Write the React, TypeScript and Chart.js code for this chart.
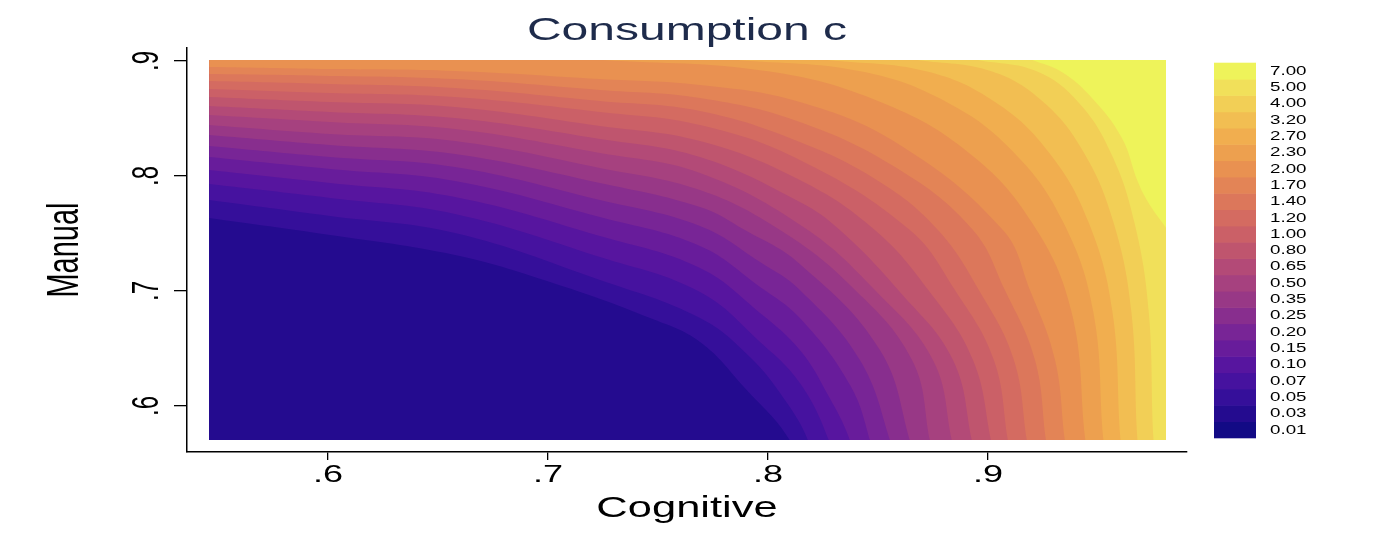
import React, { useEffect, useRef } from 'react';
import { Chart, registerables } from 'chart.js';

Chart.register(...registerables);

// Legend cut labels (bottom to top)
const levelLabels = ['0.01', '0.03', '0.05', '0.07', '0.10', '0.15', '0.20', '0.25', '0.35', '0.50', '0.65', '0.80', '1.00', '1.20', '1.40', '1.70', '2.00', '2.30', '2.70', '3.20', '4.00', '5.00', '7.00'];
// Colour of each legend band (same order)
const bandColors = ['#120A85', '#240B8F', '#350F9A', '#46129F', '#57159F', '#681C9B', '#782596', '#882E8E', '#983886', '#A6417F', '#B34A77', '#BF556E', '#CB6067', '#D46B61', '#DC775B', '#E38456', '#E99151', '#EDA04F', '#F1AE4F', '#F2BE52', '#F2CF56', '#F1E05A', '#EEF35A'];

const xTickValues = [0.6, 0.7, 0.8, 0.9];
const xTickLabels = ['.6', '.7', '.8', '.9'];
const yTickValues = [0.6, 0.7, 0.8, 0.9];
const yTickLabels = ['.6', '.7', '.8', '.9'];

// extent of the evaluated grid
const cognitiveRange = [0.546, 0.981];
const manualRange = [0.570, 0.901];

// Contour boundaries: [Cognitive, Manual]
const iso005 = [[0.546, 0.7635], [0.6009, 0.7487], [0.6577, 0.7313], [0.7009, 0.7078], [0.7464, 0.6765], [0.7691, 0.6557], [0.7895, 0.6157], [0.8100, 0.570]];
const iso007 = [[0.546, 0.7791], [0.6009, 0.7652], [0.6577, 0.7504], [0.7236, 0.7096], [0.7691, 0.6765], [0.7918, 0.6426], [0.8077, 0.6052], [0.8182, 0.570]];
const iso010 = [[0.546, 0.7930], [0.6009, 0.7809], [0.6577, 0.7670], [0.7236, 0.7296], [0.7691, 0.6991], [0.7964, 0.6557], [0.8145, 0.6200], [0.8277, 0.570]];
const iso015 = [[0.546, 0.8052], [0.6009, 0.7939], [0.6577, 0.7817], [0.7236, 0.7478], [0.7691, 0.7200], [0.7964, 0.6809], [0.8145, 0.6487], [0.8273, 0.6096], [0.8373, 0.570]];
const iso020 = [[0.546, 0.8165], [0.6009, 0.8061], [0.6577, 0.7957], [0.7236, 0.7643], [0.7691, 0.7391], [0.7964, 0.7035], [0.8145, 0.6765], [0.8373, 0.6183], [0.8464, 0.570]];
const iso025 = [[0.546, 0.8261], [0.6009, 0.8165], [0.6577, 0.8078], [0.7236, 0.7791], [0.7691, 0.7565], [0.7964, 0.7252], [0.8145, 0.7009], [0.8418, 0.6400], [0.8555, 0.570]];
const iso035 = [[0.546, 0.8357], [0.6009, 0.8270], [0.6577, 0.8191], [0.7236, 0.7939], [0.7691, 0.7730], [0.7895, 0.7530], [0.8145, 0.7235], [0.8509, 0.6487], [0.8645, 0.570]];
const iso050 = [[0.546, 0.8443], [0.6009, 0.8365], [0.6577, 0.8304], [0.7236, 0.8070], [0.7691, 0.7878], [0.8055, 0.7530], [0.8373, 0.7052], [0.8655, 0.6400], [0.8736, 0.570]];
const iso065 = [[0.546, 0.8530], [0.6009, 0.8470], [0.6577, 0.8409], [0.7236, 0.8200], [0.7691, 0.8026], [0.8168, 0.7548], [0.8486, 0.7009], [0.8750, 0.6400], [0.8836, 0.570]];
const iso080 = [[0.546, 0.8609], [0.6009, 0.8557], [0.6577, 0.8504], [0.7236, 0.8322], [0.7691, 0.8165], [0.8145, 0.7774], [0.8327, 0.7530], [0.8600, 0.6991], [0.8841, 0.6400], [0.8927, 0.570]];
const iso100 = [[0.546, 0.8687], [0.6009, 0.8643], [0.6577, 0.8600], [0.7236, 0.8435], [0.7691, 0.8304], [0.8145, 0.7965], [0.8486, 0.7530], [0.8736, 0.6991], [0.8932, 0.6400], [0.9014, 0.570]];
const iso120 = [[0.546, 0.8757], [0.6009, 0.8722], [0.6577, 0.8687], [0.7236, 0.8557], [0.7691, 0.8443], [0.8145, 0.8139], [0.8645, 0.7530], [0.8850, 0.7009], [0.9027, 0.6400], [0.9091, 0.570]];
const iso140 = [[0.546, 0.8826], [0.6009, 0.8800], [0.6577, 0.8765], [0.7236, 0.8652], [0.7691, 0.8565], [0.8145, 0.8296], [0.8509, 0.7948], [0.8773, 0.7530], [0.8964, 0.6991], [0.9118, 0.6400], [0.9177, 0.570]];
const iso170 = [[0.546, 0.8887], [0.6009, 0.8870], [0.6577, 0.8843], [0.7236, 0.8748], [0.7691, 0.8678], [0.8145, 0.8470], [0.8600, 0.8052], [0.8932, 0.7530], [0.9077, 0.7009], [0.9214, 0.6400], [0.9264, 0.570]];
const iso200 = [[0.546, 0.8948], [0.6009, 0.8930], [0.6577, 0.8913], [0.7236, 0.8843], [0.7691, 0.8791], [0.8145, 0.8643], [0.8600, 0.8270], [0.9068, 0.7530], [0.9191, 0.7009], [0.9305, 0.6400], [0.9350, 0.570]];
const iso230 = [[0.7240, 0.901], [0.8000, 0.8910], [0.8514, 0.8641], [0.8914, 0.8201], [0.9200, 0.7596], [0.9380, 0.6819], [0.9443, 0.570]];
const iso270 = [[0.7854, 0.901], [0.8421, 0.8910], [0.8814, 0.8641], [0.9120, 0.8201], [0.9343, 0.7596], [0.9479, 0.6819], [0.9525, 0.570]];
const iso320 = [[0.8265, 0.901], [0.8719, 0.8910], [0.9034, 0.8641], [0.9279, 0.8201], [0.9458, 0.7596], [0.9566, 0.6819], [0.9603, 0.570]];
const iso400 = [[0.8676, 0.901], [0.9016, 0.8910], [0.9253, 0.8641], [0.9437, 0.8201], [0.9571, 0.7596], [0.9652, 0.6819], [0.9680, 0.570]];
const iso500 = [[0.8950, 0.901], [0.9222, 0.8910], [0.9411, 0.8641], [0.9559, 0.8201], [0.9666, 0.7596], [0.9731, 0.6819], [0.9753, 0.570]];
const iso700 = [[0.9200, 0.901], [0.9336, 0.8904], [0.9473, 0.8678], [0.9609, 0.8330], [0.9682, 0.7948], [0.9736, 0.7748], [0.981, 0.7548]];

// boundary k separates band k+1 (below-left) from band k+2 (above-right)
const isoLines = [iso005, iso007, iso010, iso015, iso020, iso025, iso035, iso050, iso065, iso080, iso100, iso120, iso140, iso170, iso200, iso230, iso270, iso320, iso400, iso500, iso700];

const SX = 1.5; // horizontal stretch of the original text
const FONT = '"Liberation Sans", Arial, Helvetica, sans-serif';

function drawText(ctx: CanvasRenderingContext2D, text: string, x: number, y: number, size: number, color: string, align: CanvasTextAlign, baseline: CanvasTextBaseline, rotate = false) {
  ctx.save();
  ctx.translate(x, y);
  ctx.scale(SX, 1);
  if (rotate) ctx.rotate(-Math.PI / 2);
  ctx.font = `${size}px ${FONT}`;
  ctx.fillStyle = color;
  ctx.textAlign = align;
  ctx.textBaseline = baseline;
  ctx.fillText(text, 0, 0);
  ctx.restore();
}

// clip every band to the evaluated grid rectangle (whole pixels, so that stacked bands do not bleed)
const gridClipPlugin = {
  id: 'gridClip',
  beforeDatasetsDraw(chart: any) {
    const xs = chart.scales.x;
    const ys = chart.scales.y;
    const l = Math.round(xs.getPixelForValue(cognitiveRange[0]));
    const r = Math.round(xs.getPixelForValue(cognitiveRange[1]));
    const t = Math.round(ys.getPixelForValue(manualRange[1]));
    const b = Math.floor(ys.getPixelForValue(manualRange[0]));
    const ctx = chart.ctx;
    ctx.save();
    ctx.beginPath();
    ctx.rect(l, t, r - l, b - t);
    ctx.clip();
  },
  afterDatasetsDraw(chart: any) {
    chart.ctx.restore();
  },
};

const decorPlugin = {
  id: 'decor',
  afterDraw(chart: any) {
    const ctx = chart.ctx as CanvasRenderingContext2D;
    const xs = chart.scales.x;
    const ys = chart.scales.y;
    const area = chart.chartArea;
    drawText(ctx, 'Consumption c', (area.left + area.right) / 2, 40, 32, '#1E2B4B', 'center', 'alphabetic');
    xTickValues.forEach((v, i) => {
      drawText(ctx, xTickLabels[i], xs.getPixelForValue(v), 482, 24, '#000', 'center', 'alphabetic');
    });
    yTickValues.forEach((v, i) => {
      drawText(ctx, yTickLabels[i], 158, ys.getPixelForValue(v), 24, '#000', 'center', 'alphabetic', true);
    });
    drawText(ctx, 'Cognitive', (area.left + area.right) / 2, 517, 29, '#000', 'center', 'alphabetic');
    drawText(ctx, 'Manual', 78, (area.top + area.bottom) / 2, 29, '#000', 'center', 'alphabetic', true);
    // colour bar legend
    const top = 62.7;
    const bottom = 437.7;
    const n = levelLabels.length;
    const h = (bottom - top) / n;
    for (let i = 0; i < n; i++) {
      const y0 = bottom - (i + 1) * h;
      ctx.fillStyle = bandColors[i];
      ctx.fillRect(1214, y0, 42, h + 0.6);
      drawText(ctx, levelLabels[i], 1270, y0 + h / 2 + 0.5, 12.5, '#000', 'left', 'middle');
    }
  },
};

export default function App() {
  const canvasRef = useRef<HTMLCanvasElement | null>(null);

  useEffect(() => {
    if (!canvasRef.current) return;
    const [x0, x1] = cognitiveRange;
    const [y0, y1] = manualRange;
    const datasets: any[] = [];
    // base band covering the whole grid
    datasets.push({
      data: [{ x: x0 - 0.01, y: y0 - 0.02 }, { x: x1 + 0.01, y: y0 - 0.02 }],
      backgroundColor: bandColors[1],
    });
    isoLines.forEach((line, k) => {
      const pts = line.map(([x, y]) => ({ x, y }));
      const last = pts[pts.length - 1];
      if (Math.abs(last.y - y0) < 1e-6) {
        // leaves through the bottom edge: carry on below it and to the right
        pts.push({ x: last.x + 0.002, y: y0 - 0.025 });
        pts.push({ x: x1 + 0.012, y: y0 - 0.025 });
      } else {
        // leaves through the right edge
        pts.push({ x: x1 + 0.01, y: last.y - 0.03 });
      }
      datasets.push({ data: pts, backgroundColor: bandColors[k + 2] });
    });
    // highest bands first so they are painted on top
    const ordered = datasets.reverse().map((d) => ({
      ...d,
      borderColor: 'rgba(0,0,0,0)',
      borderWidth: 0,
      pointRadius: 0,
      pointHoverRadius: 0,
      tension: 0.4,
      fill: { value: y1 + 0.02 },
    }));

    const chart = new Chart(canvasRef.current, {
      type: 'line',
      data: { datasets: ordered },
      options: {
        animation: false,
        responsive: false,
        devicePixelRatio: 1,
        events: [],
        layout: { padding: { left: 0, right: 188, top: 48, bottom: 0 } },
        plugins: {
          legend: { display: false },
          title: { display: false },
          tooltip: { enabled: false },
          filler: { drawTime: 'beforeDatasetDraw', propagate: false },
        },
        elements: { line: { capBezierPoints: false } },
        scales: {
          x: {
            type: 'linear',
            min: 0.5359,
            max: 0.9905,
            afterBuildTicks: (s: any) => { s.ticks = xTickValues.map((v) => ({ value: v })); },
            afterFit: (s: any) => { s.height = 92; },
            ticks: { display: false },
            grid: { display: true, drawOnChartArea: false, drawTicks: true, tickLength: 8, color: '#000', lineWidth: 1.3 },
            border: { display: true, color: '#000', width: 1.5 },
          },
          y: {
            type: 'linear',
            min: 0.56,
            max: 0.9113,
            afterBuildTicks: (s: any) => { s.ticks = yTickValues.map((v) => ({ value: v })); },
            afterFit: (s: any) => { s.width = 187; },
            ticks: { display: false },
            grid: { display: true, drawOnChartArea: false, drawTicks: true, tickLength: 13, color: '#000', lineWidth: 1.3 },
            border: { display: true, color: '#000', width: 1.5 },
          },
        },
      } as any,
      plugins: [gridClipPlugin, decorPlugin],
    });
    return () => chart.destroy();
  }, []);

  return (
    <div style={{ position: 'absolute', left: 0, top: 0, width: 1375, height: 544, background: '#fff' }}>
      <canvas ref={canvasRef} width={1375} height={544} style={{ display: 'block' }} />
    </div>
  );
}
